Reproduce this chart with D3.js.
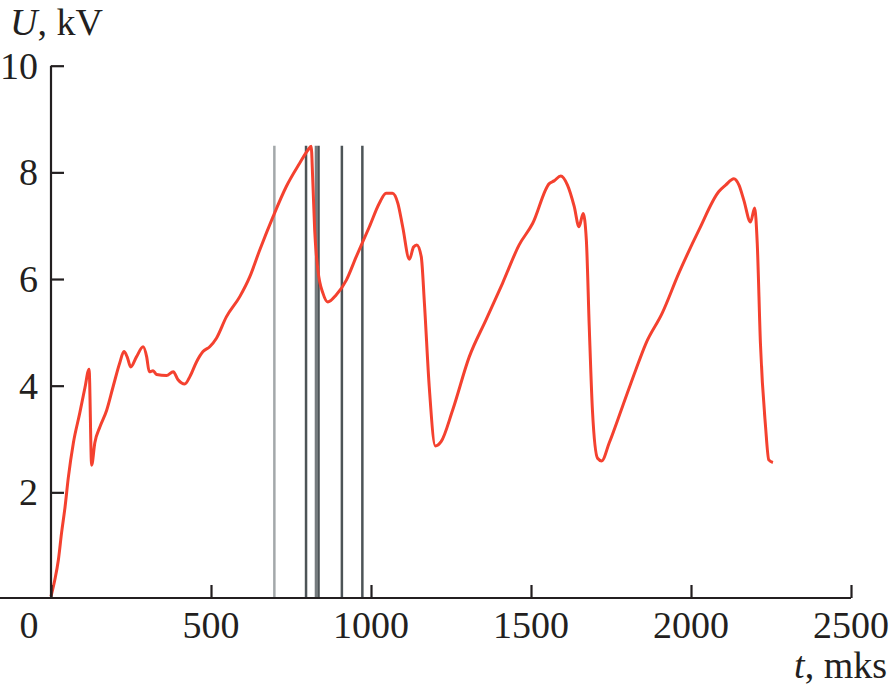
<!DOCTYPE html>
<html>
<head>
<meta charset="utf-8">
<script src="https://cdn.jsdelivr.net/npm/d3@7/dist/d3.min.js"></script>
<style>
  html, body { margin: 0; padding: 0; background: #fff; }
  svg { display: block; }
  text { font-family: "Liberation Serif", "Times New Roman", serif; fill: #231f20; }
</style>
</head>
<body>
<svg id="chart" width="892" height="688"></svg>
<script>
// Data: time t (mks) and voltage U (kV)
const tValues = [0, 12, 23, 33, 44, 54, 70, 90, 106, 119, 127, 137, 153, 174, 194, 215, 228, 238, 249, 267,
  288, 299, 307, 319, 330, 361, 382, 397, 418, 434, 455, 475, 496, 517, 548, 590, 621, 652, 694, 735,
  777, 803, 813, 818, 824, 834, 850, 865, 891, 923, 954, 995, 1026, 1047, 1067, 1084, 1099, 1120, 1133, 1143,
  1157, 1167, 1182, 1201, 1219, 1255, 1307, 1359, 1411, 1463, 1505, 1557, 1572, 1593, 1614, 1635, 1650, 1663, 1673, 1682,
  1692, 1708, 1721, 1744, 1786, 1827, 1859, 1910, 1962, 2025, 2087, 2108, 2134, 2150, 2165, 2186, 2199, 2207, 2217, 2233,
  2243, 2256];
const uValues = [0.05, 0.36, 0.73, 1.24, 1.73, 2.27, 2.93, 3.49, 3.96, 4.31, 2.51, 2.93, 3.23, 3.54, 3.98, 4.43, 4.64, 4.54, 4.35, 4.54,
  4.73, 4.54, 4.26, 4.28, 4.21, 4.19, 4.26, 4.11, 4.03, 4.17, 4.45, 4.64, 4.73, 4.89, 5.29, 5.67, 6.04, 6.54, 7.17, 7.73,
  8.17, 8.42, 8.49, 7.86, 6.92, 6.17, 5.73, 5.57, 5.70, 5.98, 6.42, 6.98, 7.42, 7.61, 7.61, 7.42, 6.98, 6.37, 6.60, 6.64,
  6.42, 5.54, 3.98, 2.87, 2.95, 3.54, 4.54, 5.23, 5.92, 6.64, 7.04, 7.79, 7.84, 7.93, 7.76, 7.36, 6.98, 7.23, 6.73, 5.11,
  3.54, 2.64, 2.59, 2.92, 3.61, 4.29, 4.79, 5.36, 6.11, 6.92, 7.64, 7.76, 7.88, 7.76, 7.48, 7.07, 7.33, 6.67, 4.79, 3.23,
  2.61, 2.56];
// Vertical marker lines (t, mks) and their shade
const markerT = [698, 797, 828, 836, 909, 973];
const markerShade = ["light", "dark", "mid", "dark", "dark", "dark"];
const markerTop = 8.5;
// Axis ticks
const xTicks = [0, 500, 1000, 1500, 2000, 2500];
const yTicks = [2, 4, 6, 8, 10];

const svg = d3.select("#chart");
const x = d3.scaleLinear().domain([0, 2500]).range([51, 851]);
const y = d3.scaleLinear().domain([0, 10]).range([599, 65.7]);
const axisColor = "#231f20";
const fs = 38;

// Marker lines
const shadeColor = { light: "#a3a8aa", mid: "#767c7f", dark: "#4d5457" };
svg.append("g").selectAll("line").data(markerT).join("line")
  .attr("x1", d => x(d)).attr("x2", d => x(d))
  .attr("y1", y(markerTop)).attr("y2", y(0))
  .attr("stroke", (d, i) => shadeColor[markerShade[i]])
  .attr("stroke-width", 2.5);

// Curve
const data = tValues.map((t, i) => ({ t, u: uValues[i] }));
svg.append("path").datum(data)
  .attr("fill", "none")
  .attr("stroke", "#f4412f")
  .attr("stroke-width", 3)
  .attr("stroke-linejoin", "round")
  .attr("d", d3.line().x(d => x(d.t)).y(d => y(d.u)).curve(d3.curveMonotoneX));

// Axes
const xAxis = d3.axisBottom(x).tickValues(xTicks).tickSize(-13).tickSizeOuter(0).tickFormat("");
const gx = svg.append("g").attr("transform", `translate(0,${y(0) - 1})`).call(xAxis);
const yAxis = d3.axisLeft(y).tickValues(yTicks).tickSize(-13).tickSizeOuter(0).tickFormat("");
const gy = svg.append("g").attr("transform", `translate(${x(0)},0)`).call(yAxis);
[gx, gy].forEach(g => {
  g.select(".domain").attr("stroke", axisColor).attr("stroke-width", 2.2);
  g.selectAll(".tick line").attr("stroke", axisColor).attr("stroke-width", 2.2);
});
gy.select(".domain").attr("d", `M0,${y(10)}V${y(0) - 1}`);
gx.select(".domain").attr("d", `M0,0H${x(2500)}`);

// Tick labels
svg.append("g").selectAll("text").data(xTicks).join("text")
  .attr("x", d => d === 0 ? 29 : x(d))
  .attr("y", 638)
  .attr("text-anchor", "middle")
  .attr("font-size", fs)
  .text(d => d);
svg.append("g").selectAll("text").data(yTicks).join("text")
  .attr("x", 38)
  .attr("y", d => y(d))
  .attr("dy", "0.34em")
  .attr("text-anchor", "end")
  .attr("font-size", fs)
  .text(d => d);

// Axis titles
const yt = svg.append("text").attr("x", 10).attr("y", 35).attr("font-size", fs);
yt.append("tspan").attr("font-style", "italic").text("U");
yt.append("tspan").text(", kV");
const xt = svg.append("text").attr("x", 887).attr("y", 678).attr("font-size", fs).attr("text-anchor", "end");
xt.append("tspan").attr("font-style", "italic").text("t");
xt.append("tspan").text(", mks");
</script>
</body>
</html>
